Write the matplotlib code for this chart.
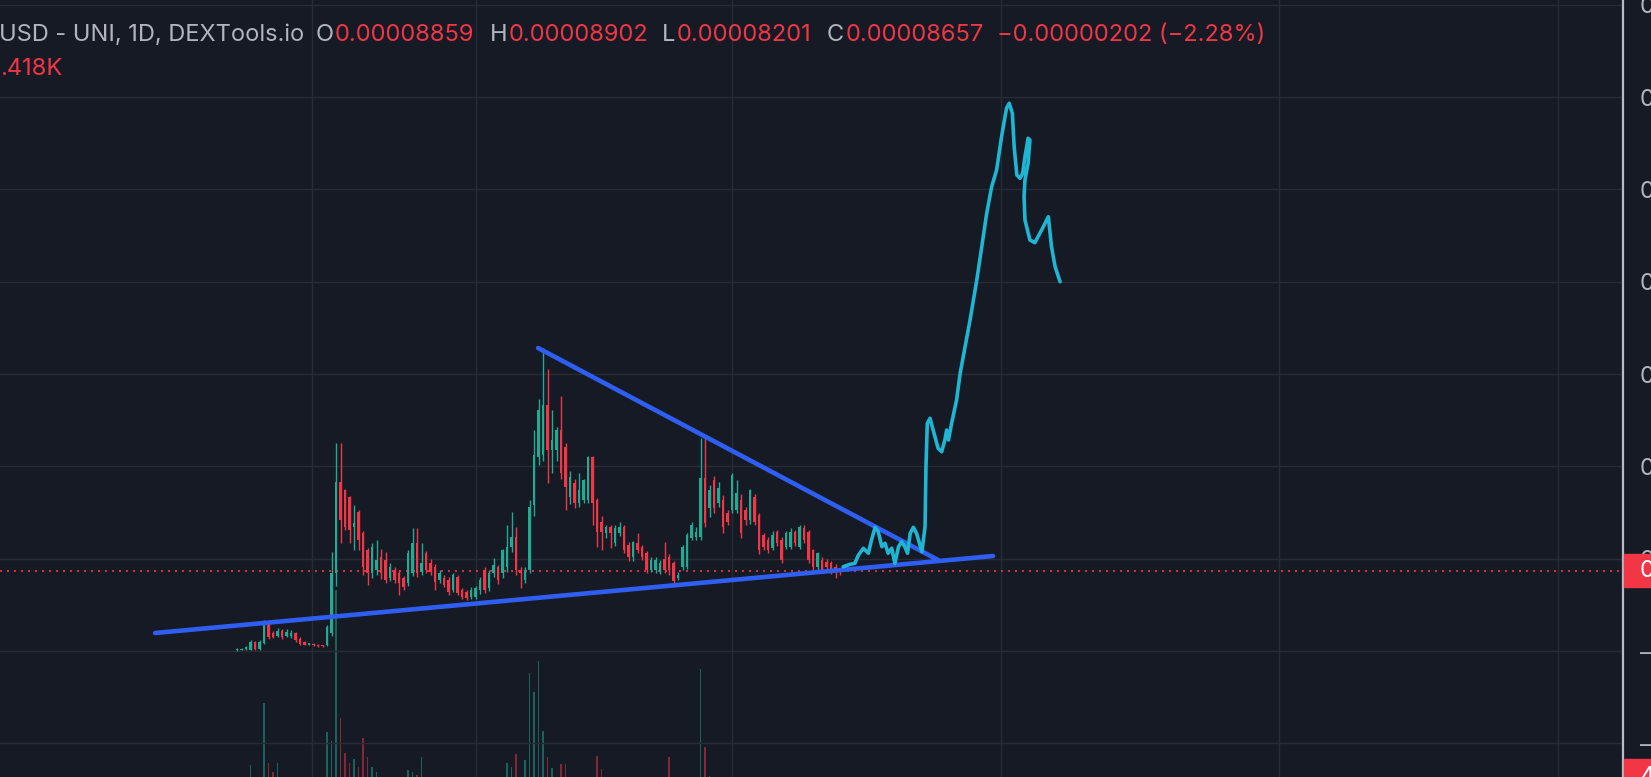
import matplotlib
matplotlib.use("Agg")
import matplotlib.pyplot as plt
from matplotlib.patches import Rectangle
import numpy as np

plt.rcParams['font.family'] = ['Inter', 'DejaVu Sans']

# daily candles, prices in units of 1e-5 USD
opens = [0.1, 0.1, 0.2, 0.1, 1.0, 0.2, 0.9, 3.0, 2.0, 1.6,
         2.2, 1.6, 1.6, 2.0, 1.3, 1.0, 0.7, 0.8, 0.7, 0.6,
         0.6, 2.0, 8.4, 18.3, 17.4, 16.7, 13.4, 15.1, 12.8, 10.9,
         8.4, 8.8, 10.2, 9.9, 7.9, 8.8, 8.4, 7.9, 7.4, 8.4,
         11.7, 8.6, 10.6, 9.5, 9.1, 7.7, 7.9, 7.7, 6.6, 8.0,
         6.6, 6.4, 5.8, 5.8, 6.6, 8.8, 6.8, 8.4, 9.1, 8.4,
         9.1, 11.3, 12.4, 8.8, 7.7, 8.8, 15.8, 21.0, 21.2, 26.7,
         21.8, 21.8, 23.9, 22.1, 16.7, 18.2, 16.0, 16.4, 16.4, 21.0,
         16.4, 14.0, 12.8, 13.4, 11.7, 12.8, 13.4, 11.5, 10.2, 11.7,
         11.3, 10.6, 8.8, 8.8, 8.6, 10.0, 10.2, 9.5, 7.9, 9.1,
         9.1, 12.2, 12.4, 12.4, 18.7, 15.5, 18.5, 16.0, 16.4, 14.9,
         15.3, 15.3, 16.4, 15.3, 14.2, 16.7, 14.7, 12.6, 12.0, 11.2,
         12.9, 12.0, 11.3, 11.3, 12.9, 11.3, 13.3, 12.9, 10.9, 9.1,
         9.9, 9.6, 9.5, 9.1, 8.859]
highs = [0.3, 0.3, 0.5, 1.2, 1.1, 1.2, 3.4, 3.3, 2.2, 2.5,
         2.4, 2.4, 2.3, 2.1, 1.5, 1.1, 0.9, 0.9, 0.8, 0.7,
         2.8, 10.7, 22.5, 22.5, 17.6, 16.8, 15.8, 15.3, 13.0, 11.2,
         11.7, 12.0, 11.0, 10.7, 9.5, 9.1, 8.8, 8.1, 10.9, 13.3,
         13.3, 11.7, 10.8, 10.0, 9.4, 8.8, 8.2, 8.0, 8.4, 8.2,
         6.8, 6.6, 6.9, 7.0, 8.0, 9.1, 8.8, 10.1, 9.3, 11.0,
         13.6, 15.1, 13.4, 9.1, 9.1, 16.4, 23.9, 27.3, 32.8, 30.6,
         26.1, 24.3, 27.6, 22.5, 19.5, 18.6, 19.3, 18.6, 21.1, 21.1,
         16.6, 14.6, 13.6, 13.7, 13.6, 14.0, 13.7, 11.8, 11.9, 12.8,
         11.5, 10.8, 10.2, 10.2, 9.9, 11.8, 10.5, 9.8, 8.6, 11.5,
         12.8, 14.0, 13.4, 23.1, 23.1, 18.0, 19.0, 18.3, 16.9, 15.3,
         19.3, 18.5, 17.0, 15.6, 17.5, 17.0, 15.0, 12.8, 12.4, 13.0,
         13.1, 12.4, 13.0, 13.3, 13.1, 13.6, 13.6, 13.1, 11.1, 10.7,
         10.2, 10.0, 9.7, 9.4, 8.902]
lows = [0.0, 0.1, 0.1, 0.1, 0.1, 0.1, 0.8, 1.3, 1.4, 1.5,
        1.3, 1.5, 1.4, 1.0, 0.7, 0.6, 0.6, 0.5, 0.4, 0.4,
        0.5, 1.6, 7.0, 11.7, 13.1, 11.7, 10.9, 10.9, 8.2, 7.1,
        7.9, 8.2, 7.8, 7.4, 7.6, 7.4, 6.1, 6.6, 7.0, 8.1,
        8.0, 8.2, 8.4, 8.2, 6.6, 7.4, 6.9, 6.1, 6.4, 6.1,
        5.6, 5.5, 5.6, 5.6, 6.2, 6.3, 6.5, 8.0, 7.3, 7.9,
        8.6, 10.7, 8.2, 6.8, 7.4, 8.4, 14.6, 20.2, 20.6, 18.2,
        19.3, 20.6, 18.6, 15.3, 15.9, 15.5, 15.6, 16.0, 16.0, 13.6,
        11.3, 10.9, 12.2, 11.2, 11.4, 12.5, 10.6, 9.8, 9.7, 10.6,
        9.9, 8.4, 8.6, 8.5, 8.3, 8.5, 8.2, 7.3, 7.7, 8.8,
        8.9, 12.0, 12.0, 12.0, 13.4, 14.5, 15.0, 15.6, 12.8, 13.6,
        14.9, 14.9, 12.2, 13.6, 13.8, 13.6, 10.5, 10.9, 10.6, 10.9,
        11.4, 9.5, 11.0, 11.0, 11.4, 11.0, 11.7, 9.5, 8.8, 8.8,
        8.5, 8.6, 8.3, 7.9, 8.201]
closes = [0.2, 0.2, 0.4, 1.0, 0.2, 1.0, 3.0, 1.5, 1.5, 2.2,
          1.5, 2.1, 2.0, 1.2, 0.8, 0.7, 0.8, 0.6, 0.5, 0.5,
          2.6, 8.4, 18.3, 14.2, 13.4, 13.1, 13.9, 12.0, 9.1, 8.4,
          11.3, 9.9, 8.4, 7.7, 9.1, 7.7, 7.4, 6.9, 10.6, 11.7,
          8.4, 9.5, 8.8, 8.6, 7.5, 8.4, 7.1, 6.4, 8.2, 6.3,
          5.8, 5.7, 6.6, 6.8, 7.7, 6.6, 8.4, 9.3, 7.7, 10.9,
          11.3, 12.4, 8.8, 8.4, 8.8, 15.6, 21.2, 26.1, 26.7, 21.8,
          22.9, 23.9, 19.3, 17.8, 18.8, 16.0, 17.4, 18.5, 21.0, 16.0,
          12.9, 12.9, 13.4, 12.8, 13.3, 13.4, 10.9, 10.2, 11.8, 10.9,
          10.2, 8.8, 9.9, 9.9, 9.5, 8.8, 8.8, 7.6, 8.2, 11.3,
          12.6, 13.6, 12.9, 18.7, 13.9, 17.4, 15.5, 17.7, 13.4, 14.0,
          19.1, 17.1, 12.8, 14.2, 17.4, 14.0, 10.9, 11.3, 10.9, 12.6,
          11.7, 9.9, 12.8, 12.9, 11.7, 13.4, 12.0, 9.9, 9.1, 10.6,
          8.8, 9.1, 8.8, 8.859, 8.657]
# volume in K
volumes = [2.1, 1.8, 3.0, 7.9, 4.2, 5.1, 14.1, 8.1, 7.2, 8.1,
           4.4, 3.9, 3.3, 4.0, 3.1, 2.6, 2.2, 2.4, 2.0, 2.3,
           11.2, 10.3, 25.4, 12.6, 9.1, 8.1, 8.5, 7.7, 10.6, 8.7,
           7.7, 7.2, 5.8, 5.5, 6.0, 4.9, 5.2, 4.1, 7.4, 7.2,
           6.9, 8.7, 5.6, 4.8, 5.1, 4.2, 3.9, 4.6, 5.3, 4.4,
           3.8, 3.5, 4.0, 3.7, 4.5, 5.2, 4.7, 5.9, 4.8, 6.1,
           8.1, 7.7, 9.0, 5.9, 8.4, 17.1, 15.2, 18.3, 11.3, 8.7,
           7.6, 6.4, 8.0, 8.0, 6.2, 5.4, 5.8, 6.0, 6.3, 6.6,
           8.8, 7.5, 4.9, 4.6, 4.4, 4.1, 5.0, 4.3, 4.7, 4.2,
           4.0, 4.6, 4.3, 3.9, 4.5, 5.3, 8.7, 5.5, 4.0, 5.7,
           6.1, 5.2, 4.6, 17.5, 9.7, 6.8, 5.9, 5.1, 5.6, 4.8,
           6.2, 5.3, 5.7, 4.6, 5.4, 4.9, 5.8, 4.5, 4.2, 4.4,
           4.0, 4.7, 4.3, 4.1, 3.9, 4.5, 4.2, 5.0, 4.6, 4.3,
           4.1, 3.8, 3.9, 4.0, 4.418]

# drawn trend lines (day index, price 1e-5)
support_x = [-18.2, 168.0]
support_y = [1.95, 10.29]
resist_x = [66.9, 155.8]
resist_y = [32.83, 9.86]

# hand drawn projection
proj_x = [134.7, 136.2, 137.3, 138.1, 139.2, 140.3, 141.0, 141.8, 142.5, 143.3,
          144.0, 144.7, 145.5, 146.2, 147.0, 147.7, 148.4, 149.0, 149.6, 150.3,
          151.0, 152.2, 152.9, 153.1, 153.4, 154.0, 154.7, 155.8, 156.6, 157.3,
          157.7, 158.1, 158.8, 159.9, 160.7, 162.9, 164.4, 165.5, 166.6, 167.7,
          168.8, 169.9, 171.0, 171.6, 172.3, 172.7, 173.3, 174.0, 174.6, 175.1,
          175.8, 176.2, 175.8, 175.1, 174.9, 175.1, 176.2, 177.3, 178.8, 180.3,
          181.0, 181.8, 182.9]
proj_y = [9.13, 9.39, 9.50, 10.40, 11.13, 10.59, 12.03, 13.40, 12.93, 11.30,
          11.67, 10.59, 11.13, 9.50, 11.30, 11.84, 11.30, 10.59, 12.75, 13.40,
          12.75, 10.76, 13.47, 19.97, 24.67, 25.21, 23.94, 21.96, 21.59, 22.86,
          23.94, 22.86, 24.67, 27.19, 30.09, 35.86, 40.20, 43.80, 47.42, 50.30,
          52.11, 55.72, 58.80, 59.34, 58.25, 54.64, 51.57, 51.21, 51.75, 53.55,
          55.55, 55.36, 52.84, 51.03, 49.22, 46.70, 44.53, 44.24, 45.61, 47.05,
          43.80, 41.64, 40.01]

price_grid = [70, 60, 50, 40, 30, 20, 10, 0, -10]
price_labels = ["0.0007000", "0.0006000", "0.0005000", "0.0004000", "0.0003000",
                "0.0002000", "0.0001000", "–", "–"]
time_grid = [16.6, 53.1, 110.0, 169.8, 231.6, 293.6]

title_text = "USD - UNI, 1D, DEXTools.io"
ohlc_keys = ["O", "H", "L", "C"]
ohlc_vals = ["0.00008859", "0.00008902", "0.00008201", "0.00008657"]
ohlc_x = [316, 490, 662, 827]
change_text = "\u22120.00000202 (\u22122.28%)"
vol_text = ".418K"
last_price_text = "0.0000866"
last_vol_text = "4.418K"

bg = '#161a25'
grid_c = '#272b36'
up_c = '#22ab94'
down_c = '#f23645'
text_c = '#b2b5be'
fs = 17
W, H = 1651, 777

fig = plt.figure(figsize=(W / 100, H / 100), dpi=100, facecolor=bg)
ax = fig.add_axes([0, 0, 1623 / W, 1])
ax2 = ax.twinx()
ax.set_zorder(2)
ax2.set_zorder(1)
ax.patch.set_visible(False)
ax2.patch.set_facecolor(bg)

idx = np.arange(len(closes))
o = np.array(opens)
c = np.array(closes)
up = c >= o
cols = np.where(up, up_c, down_c)

# volume overlay
ax2.bar(idx, volumes, width=0.35, color=cols, alpha=0.5, linewidth=0)
ax2.set_ylim(6.7, 84.4)
ax2.set_yticks([])
for s in ax2.spines.values():
    s.set_visible(False)

# grid
for g in price_grid:
    ax.axhline(g, color=grid_c, lw=1, zorder=0)
for g in time_grid:
    ax.axvline(g, color=grid_c, lw=1, zorder=0)

# candles
ax.vlines(idx, lows, highs, colors=cols, lw=1.0, zorder=3)
body_lo = np.minimum(o, c)
body_h = np.maximum(np.abs(c - o), 0.15)
ax.bar(idx, body_h, bottom=body_lo, width=0.62, color=cols, linewidth=0, zorder=4)

# last price line
ax.axhline(closes[-1], color=down_c, lw=1.2, ls=(0, (1.2, 3)), zorder=2)

# trend lines and projection
ax.plot(support_x, support_y, color='#2f5ff2', lw=3.3, solid_capstyle='round', zorder=5)
ax.plot(resist_x, resist_y, color='#2f5ff2', lw=3.3, solid_capstyle='round', zorder=5)
ax.plot(proj_x, proj_y, color='#1fb6d4', lw=2.6, solid_capstyle='round',
        solid_joinstyle='round', zorder=6)

ax.set_xlim(-52.67, 308.0)
ax.set_ylim(-13.65, 70.53)
ax.set_xticks([])
ax.yaxis.tick_right()
ax.set_yticks(price_grid)
ax.set_yticklabels(price_labels)
ax.tick_params(axis='y', length=0, pad=12, labelsize=fs, labelcolor=text_c)
for k, s in ax.spines.items():
    s.set_visible(k == 'right')
ax.spines['right'].set_color('#b8bbc4')
ax.spines['right'].set_linewidth(1.6)


def fx(px):
    return px / W


def fy(py):
    return 1 - py / H


# last price tag and volume tag on the scale
fig.add_artist(Rectangle((fx(1624), fy(587)), fx(W - 1624), (587 - 554) / H,
                         transform=fig.transFigure, color=down_c, zorder=10))
fig.text(fx(1640), fy(571), last_price_text, color='white', fontsize=fs,
         va='center', ha='left', zorder=11)
fig.add_artist(Rectangle((fx(1624), 0), fx(W - 1624), (777 - 759) / H,
                         transform=fig.transFigure, color=down_c, zorder=10))
fig.text(fx(1640), fy(766), last_vol_text, color='white', fontsize=fs,
         va='top', ha='left', zorder=11)

# legend header: key letters in grey, values right after them in red
fig.text(fx(-1), fy(35), title_text, color=text_c, fontsize=fs, va='center', ha='left')
renderer = fig.canvas.get_renderer()
for key, val, px in zip(ohlc_keys, ohlc_vals, ohlc_x):
    t = fig.text(fx(px), fy(35), key, color=text_c, fontsize=fs, va='center', ha='left')
    x1 = t.get_window_extent(renderer).x1
    fig.text(x1 / W + 1 / W, fy(35), val, color=down_c, fontsize=fs, va='center', ha='left')
fig.text(fx(997), fy(35), change_text, color=down_c, fontsize=fs, va='center', ha='left')
fig.text(fx(0), fy(69), vol_text, color=down_c, fontsize=fs, va='center', ha='left')

fig.savefig('out.png', dpi=100, facecolor=bg)
